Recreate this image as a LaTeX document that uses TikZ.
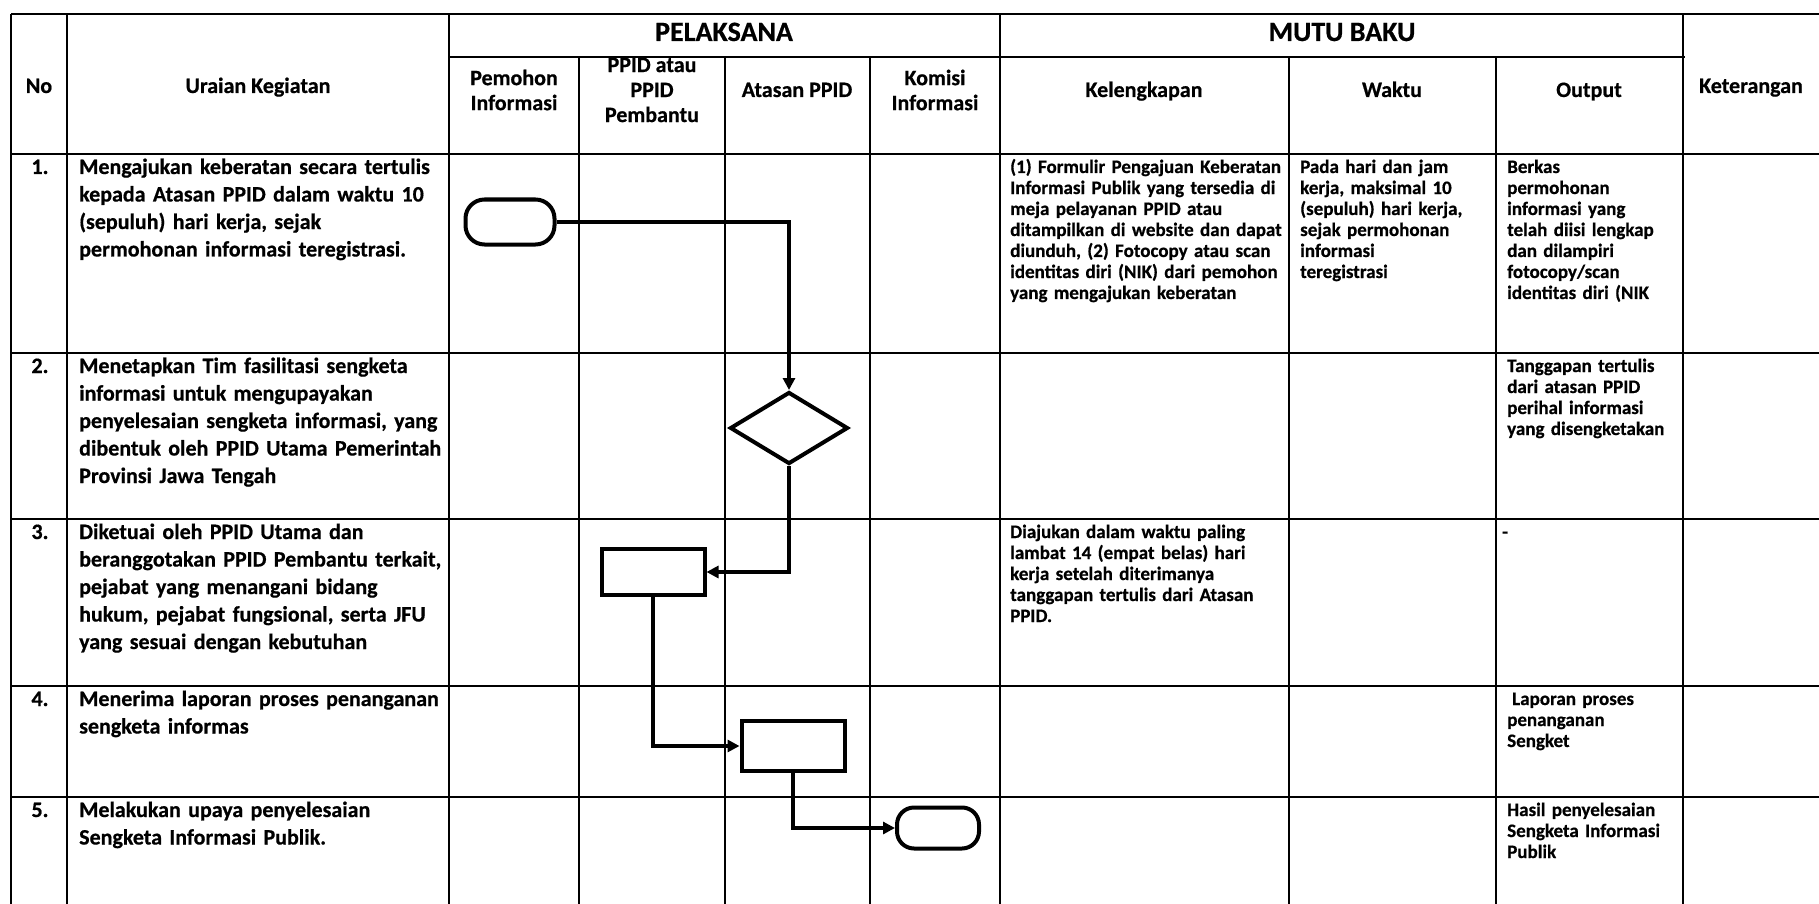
\documentclass[tikz,border=0pt]{standalone}
\usepackage{fontspec}
\setmainfont{Carlito}[BoldFeatures={FakeBold=0.6}]
\usetikzlibrary{arrows.meta,shapes.geometric}
\begin{document}
\begin{tikzpicture}[x=1pt,y=-1pt,
  grid/.style={line width=1.8pt,black},
  hd/.style={font=\bfseries\fontsize{22}{25}\selectfont,align=center,inner sep=0pt,anchor=base},
  hdb/.style={font=\bfseries\fontsize{22}{25}\selectfont,align=center,inner sep=0pt,anchor=center},
  big/.style={font=\bfseries\fontsize{28}{33}\selectfont,inner sep=0pt,anchor=base},
  ura/.style={font=\bfseries\fontsize{22}{27.5}\selectfont,text width=375pt,align=left,inner sep=0pt,anchor=base west},
  sm/.style={font=\bfseries\fontsize{19}{21}\selectfont,text width=300pt,align=left,inner sep=0pt,anchor=base west},
  num/.style={font=\bfseries\fontsize{22}{27.5}\selectfont,inner sep=0pt,anchor=base},
  term/.style={draw,line width=4pt,rounded corners=19pt,inner sep=0pt},
  proc/.style={draw,line width=4pt,inner sep=0pt},
  dec/.style={draw,line width=4pt,diamond,inner sep=0pt},
  flow/.style={line width=3.8pt,-{Triangle[length=12pt,width=12pt]}}
]
\useasboundingbox (0,0) rectangle (1819,904);
\fill[white] (0,0) rectangle (1819,904);
% grid
\draw[grid] (11,14) -- (1819,14);
\draw[grid] (449,57) -- (1685,57);
\draw[grid] (11,154) -- (1819,154);
\draw[grid] (11,353) -- (1819,353);
\draw[grid] (11,519) -- (1819,519);
\draw[grid] (11,686) -- (1819,686);
\draw[grid] (11,797) -- (1819,797);
\foreach \x in {11,67,449,1000,1683} \draw[grid] (\x,14) -- (\x,904);
\foreach \x in {579,725,870,1289,1496} \draw[grid] (\x,57) -- (\x,904);
% headers
\node[hd] (hNo) at (39,93) {No};
\node[hd] (hUr) at (258,93) {Uraian Kegiatan};
\node[big] (hPel) at (724,41) {PELAKSANA};
\node[big] (hMutu) at (1342,41) {MUTU BAKU};
\node[hdb] (hPem) at (514,90) {Pemohon\\Informasi};
\node[hdb] (hPPID) at (652,90) {PPID atau\\PPID\\Pembantu};
\node[hd] (hAt) at (797,97) {Atasan PPID};
\node[hdb] (hKom) at (935,90) {Komisi\\Informasi};
\node[hd] (hKel) at (1144,97) {Kelengkapan};
\node[hd] (hWak) at (1392,97) {Waktu};
\node[hd] (hOut) at (1589,97) {Output};
\node[hd] (hKet) at (1751,93) {Keterangan};
% row numbers
\node[num] (n1) at (40,174) {1.};
\node[num] (n2) at (40,373) {2.};
\node[num] (n3) at (40,539) {3.};
\node[num] (n4) at (40,706) {4.};
\node[num] (n5) at (40,817) {5.};
% uraian
\node[ura] (u1) at (79,174) {Mengajukan keberatan secara tertulis\\kepada Atasan PPID dalam waktu 10\\(sepuluh) hari kerja, sejak\\permohonan informasi teregistrasi.};
\node[ura] (u2) at (79,373) {Menetapkan Tim fasilitasi sengketa\\informasi untuk mengupayakan\\penyelesaian sengketa informasi, yang\\dibentuk oleh PPID Utama Pemerintah\\Provinsi Jawa Tengah};
\node[ura] (u3) at (79,539) {Diketuai oleh PPID Utama dan\\beranggotakan PPID Pembantu terkait,\\pejabat yang menangani bidang\\hukum, pejabat fungsional, serta JFU\\yang sesuai dengan kebutuhan};
\node[ura] (u4) at (79,706) {Menerima laporan proses penanganan\\sengketa informas};
\node[ura] (u5) at (79,817) {Melakukan upaya penyelesaian\\Sengketa Informasi Publik.};
% kelengkapan
\node[sm] (k1) at (1010,173) {(1) Formulir Pengajuan Keberatan\\Informasi Publik yang tersedia di\\meja pelayanan PPID atau\\ditampilkan di website dan dapat\\diunduh, (2) Fotocopy atau scan\\identitas diri (NIK) dari pemohon\\yang mengajukan keberatan};
\node[sm] (k3) at (1010,538) {Diajukan dalam waktu paling\\lambat 14 (empat belas) hari\\kerja setelah diterimanya\\tanggapan tertulis dari Atasan\\PPID.};
% waktu
\node[sm] (w1) at (1300,173) {Pada hari dan jam\\kerja, maksimal 10\\(sepuluh) hari kerja,\\sejak permohonan\\informasi\\teregistrasi};
% output
\node[sm] (o1) at (1507,173) {Berkas\\permohonan\\informasi yang\\telah diisi lengkap\\dan dilampiri\\fotocopy/scan\\identitas diri (NIK};
\node[sm] (o2) at (1507,372) {Tanggapan tertulis\\dari atasan PPID\\perihal informasi\\yang disengketakan};
\node[sm] (o3) at (1502,538) {-};
\node[sm] (o4) at (1512,705) {Laporan proses\\\hspace*{-5pt}penanganan\\\hspace*{-5pt}Sengket};
\node[sm] (o5) at (1507,816) {Hasil penyelesaian\\Sengketa Informasi\\Publik};
% flow shapes
\node[term,minimum width=89pt,minimum height=45pt] (t1) at (510,222) {};
\node[dec,minimum width=118pt,minimum height=72pt] (dm) at (789,428) {};
\node[proc,minimum width=103pt,minimum height=46pt] (r3) at (653,572) {};
\node[proc,minimum width=103pt,minimum height=50pt] (r4) at (793,746) {};
\node[term,minimum width=82pt,minimum height=41pt,rounded corners=17pt] (t2) at (938,828) {};
% connectors
\draw[flow] (t1.east) -| (dm.north);
\draw[flow] (dm.south) |- (r3.east);
\draw[flow] (r3.south) |- (r4.west);
\draw[flow] (r4.south) |- (t2.west);
\end{tikzpicture}
\end{document}
